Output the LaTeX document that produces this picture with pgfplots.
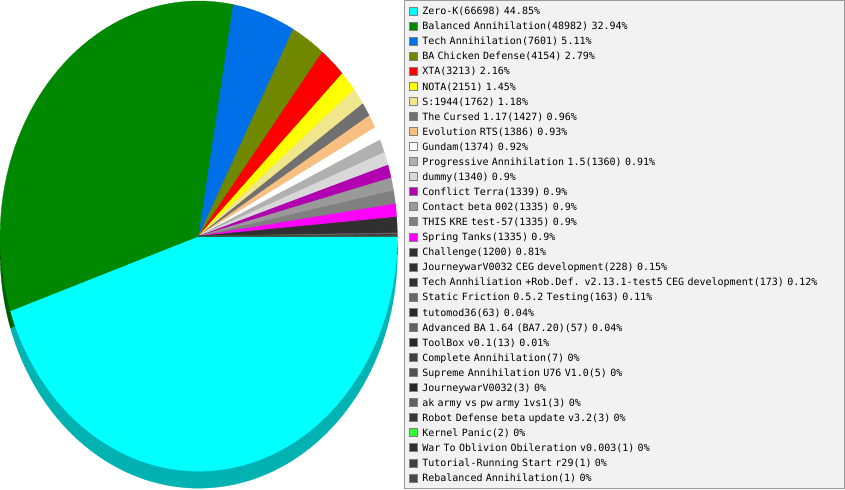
\documentclass[border=0pt]{standalone}
\usepackage{fontspec}
\newfontfamily\legfont{DejaVu Sans Mono}
\usepackage{pgfplots}
\pgfplotsset{compat=1.18}

\definecolor{c1}{HTML}{00FFFF}
\definecolor{c2}{HTML}{008800}
\definecolor{c3}{HTML}{0070E8}
\definecolor{c4}{HTML}{708800}
\definecolor{c5}{HTML}{FF0000}
\definecolor{c6}{HTML}{FFFF00}
\definecolor{c7}{HTML}{F0E68C}
\definecolor{c8}{HTML}{707070}
\definecolor{c9}{HTML}{F8C080}
\definecolor{c10}{HTML}{FFFFFF}
\definecolor{c11}{HTML}{B0B0B0}
\definecolor{c12}{HTML}{D8D8D8}
\definecolor{c13}{HTML}{B000B0}
\definecolor{c14}{HTML}{999999}
\definecolor{c15}{HTML}{808080}
\definecolor{c16}{HTML}{FF00FF}
\definecolor{c17}{HTML}{303030}
\definecolor{c18}{HTML}{303030}
\definecolor{c19}{HTML}{303030}
\definecolor{c20}{HTML}{686868}
\definecolor{c21}{HTML}{282828}
\definecolor{c22}{HTML}{606060}
\definecolor{c23}{HTML}{282828}
\definecolor{c24}{HTML}{404040}
\definecolor{c25}{HTML}{505050}
\definecolor{c26}{HTML}{282828}
\definecolor{c27}{HTML}{606060}
\definecolor{c28}{HTML}{383838}
\definecolor{c29}{HTML}{33FF33}
\definecolor{c30}{HTML}{303030}
\definecolor{c31}{HTML}{404040}
\definecolor{c32}{HTML}{484848}

\def\total{148715}
\gdef\cum{0}
\newcommand\legtext{\legfont\fontsize{10}{12}\selectfont}
% one slice of the side wall (shifted down, darker)
\newcommand\rimslice[2]{%
  \edef\sa{\fpeval{round(-\cum*360/\total,4)}}%
  \edef\nc{\fpeval{\cum+#1}}%
  \edef\ea{\fpeval{round(-\nc*360/\total,4)}}%
  \edef\ns{\fpeval{max(2,ceil((\sa-\ea)/2)+1)}}%
  \xdef\cum{\nc}%
  \edef\tmp{\noexpand\addplot[forget plot, fill=#2!70!black, draw=#2!70!black, line width=0.3pt, domain=\ea:\sa, samples=\ns] ({200+198.5*cos(x)},{237+235*sin(x)}) -- (axis cs:200,237) -- cycle;}%
  \tmp}
% one slice of the top surface
\newcommand\topslice[3]{%
  \edef\sa{\fpeval{round(-\cum*360/\total,4)}}%
  \edef\nc{\fpeval{\cum+#1}}%
  \edef\ea{\fpeval{round(-\nc*360/\total,4)}}%
  \edef\ns{\fpeval{max(2,ceil((\sa-\ea)/2)+1)}}%
  \xdef\cum{\nc}%
  \edef\tmp{\noexpand\addplot[fill=#2, draw=#2, line width=0.3pt, domain=\ea:\sa, samples=\ns] ({200+198.5*cos(x)},{254+235*sin(x)}) -- (axis cs:200,254) -- cycle;}%
  \tmp
  \addlegendentry{#3}}

\begin{document}
\begin{tikzpicture}
\begin{axis}[
  width=845pt, height=490pt, scale only axis,
  xmin=0, xmax=845, ymin=0, ymax=490,
  hide axis, clip=false,
  legend cell align=left,
  legend image code/.code={\draw[#1, draw=gray, line width=1pt] (0pt,-4pt) rectangle (8pt,4pt);},
  legend style={
    at={(axis cs:405,490)}, anchor=north west,
    draw=gray!80, fill=gray!10, line width=1pt,
    inner xsep=5pt, inner ysep=3pt,
    row sep=0pt, column sep=4pt,
    font=\legtext,
    nodes={inner sep=0pt, text width=417pt, text height=11.2pt, text depth=3.86pt, anchor=west},
  },
]
\gdef\cum{0}
\rimslice{66698}{c1}
\rimslice{48982}{c2}
\rimslice{7601}{c3}
\rimslice{4154}{c4}
\rimslice{3213}{c5}
\rimslice{2151}{c6}
\rimslice{1762}{c7}
\rimslice{1427}{c8}
\rimslice{1386}{c9}
\rimslice{1374}{c10}
\rimslice{1360}{c11}
\rimslice{1340}{c12}
\rimslice{1339}{c13}
\rimslice{1335}{c14}
\rimslice{1335}{c15}
\rimslice{1335}{c16}
\rimslice{1200}{c17}
\rimslice{228}{c18}
\rimslice{173}{c19}
\rimslice{163}{c20}
\rimslice{63}{c21}
\rimslice{57}{c22}
\rimslice{13}{c23}
\rimslice{7}{c24}
\rimslice{5}{c25}
\rimslice{3}{c26}
\rimslice{3}{c27}
\rimslice{3}{c28}
\rimslice{2}{c29}
\rimslice{1}{c30}
\rimslice{1}{c31}
\rimslice{1}{c32}
\gdef\cum{0}
\topslice{66698}{c1}{Zero-K(66698) 44.85\%}
\topslice{48982}{c2}{Balanced Annihilation(48982) 32.94\%}
\topslice{7601}{c3}{Tech Annihilation(7601) 5.11\%}
\topslice{4154}{c4}{BA Chicken Defense(4154) 2.79\%}
\topslice{3213}{c5}{XTA(3213) 2.16\%}
\topslice{2151}{c6}{NOTA(2151) 1.45\%}
\topslice{1762}{c7}{S:1944(1762) 1.18\%}
\topslice{1427}{c8}{The Cursed 1.17(1427) 0.96\%}
\topslice{1386}{c9}{Evolution RTS(1386) 0.93\%}
\topslice{1374}{c10}{Gundam(1374) 0.92\%}
\topslice{1360}{c11}{Progressive Annihilation 1.5(1360) 0.91\%}
\topslice{1340}{c12}{dummy(1340) 0.9\%}
\topslice{1339}{c13}{Conflict Terra(1339) 0.9\%}
\topslice{1335}{c14}{Contact beta 002(1335) 0.9\%}
\topslice{1335}{c15}{THIS KRE test-57(1335) 0.9\%}
\topslice{1335}{c16}{Spring Tanks(1335) 0.9\%}
\topslice{1200}{c17}{Challenge(1200) 0.81\%}
\topslice{228}{c18}{JourneywarV0032 CEG development(228) 0.15\%}
\topslice{173}{c19}{Tech Annhiliation +Rob.Def. v2.13.1-test5 CEG development(173) 0.12\%}
\topslice{163}{c20}{Static Friction 0.5.2 Testing(163) 0.11\%}
\topslice{63}{c21}{tutomod36(63) 0.04\%}
\topslice{57}{c22}{Advanced BA 1.64 (BA7.20)(57) 0.04\%}
\topslice{13}{c23}{ToolBox v0.1(13) 0.01\%}
\topslice{7}{c24}{Complete Annihilation(7) 0\%}
\topslice{5}{c25}{Supreme Annihilation U76 V1.0(5) 0\%}
\topslice{3}{c26}{JourneywarV0032(3) 0\%}
\topslice{3}{c27}{ak army vs pw army 1vs1(3) 0\%}
\topslice{3}{c28}{Robot Defense beta update v3.2(3) 0\%}
\topslice{2}{c29}{Kernel Panic(2) 0\%}
\topslice{1}{c30}{War To Oblivion Obileration v0.003(1) 0\%}
\topslice{1}{c31}{Tutorial-Running Start r29(1) 0\%}
\topslice{1}{c32}{Rebalanced Annihilation(1) 0\%}
\end{axis}
\end{tikzpicture}
\end{document}
